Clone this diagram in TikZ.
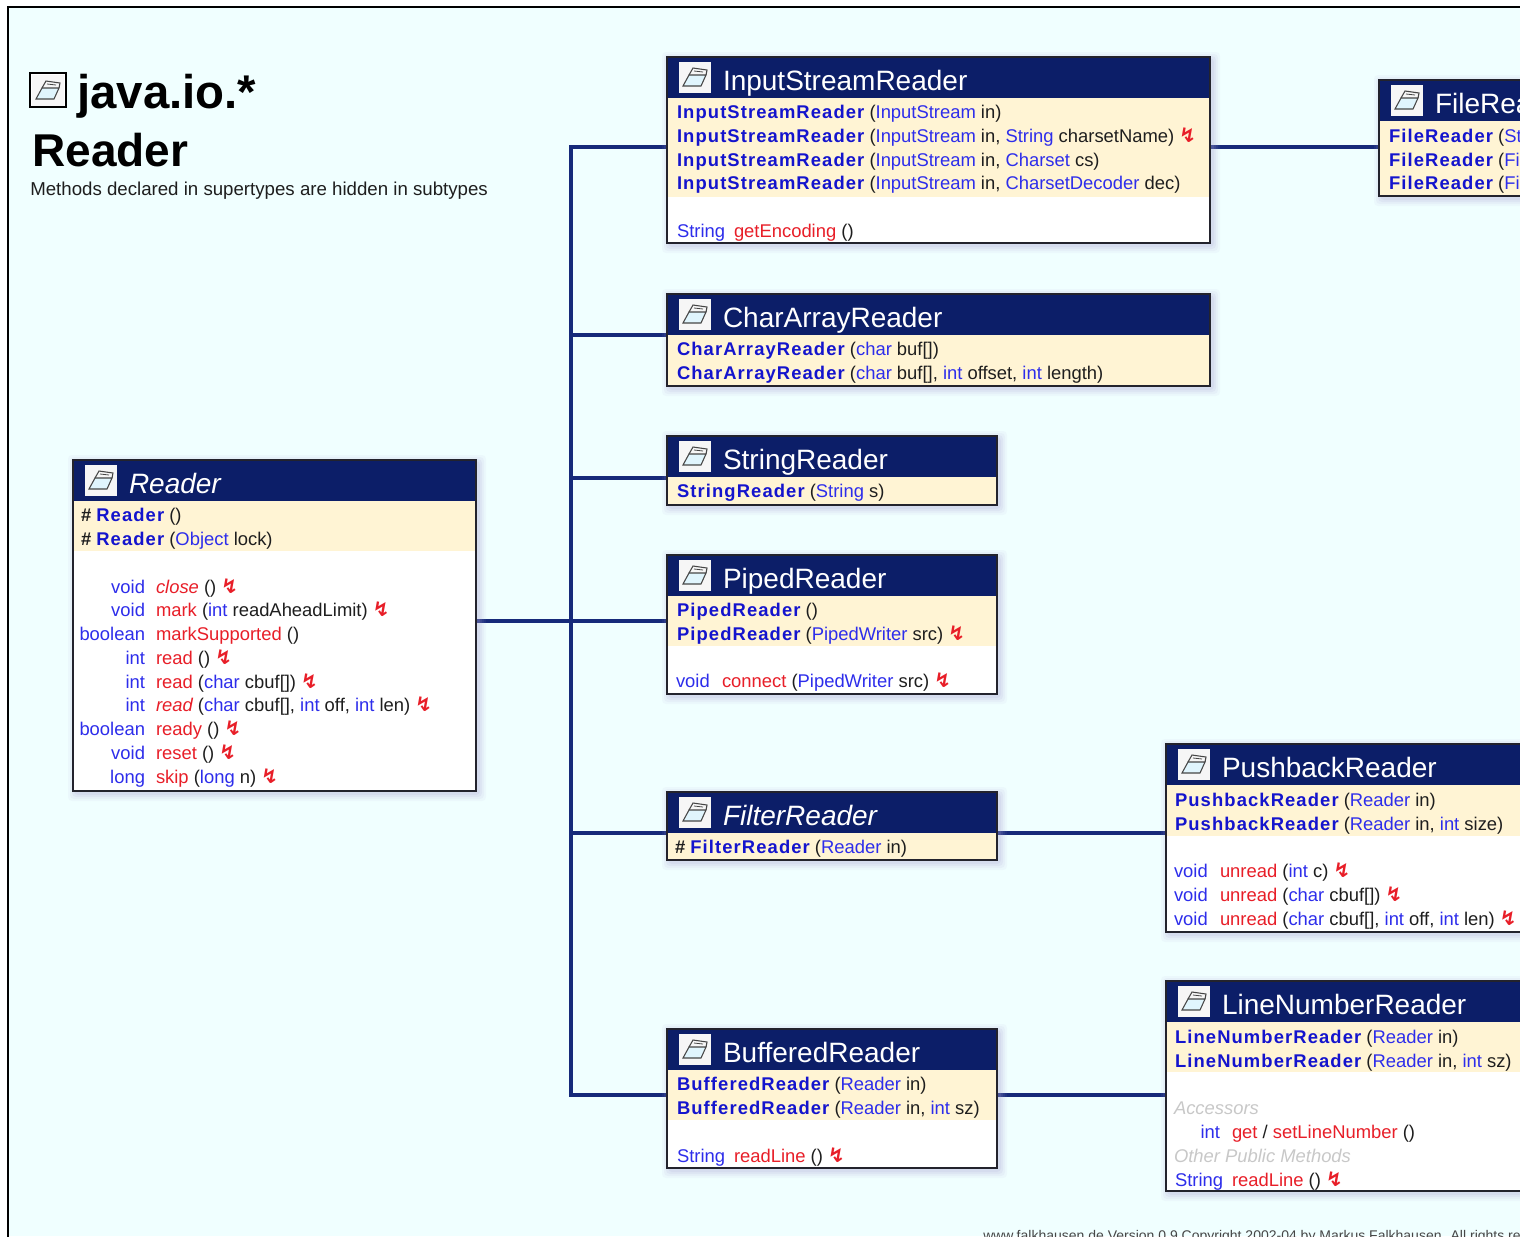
\documentclass[tikz,border=0pt]{standalone}
\usepackage{fontspec}
\setmainfont{Liberation Sans}
\newfontfamily\cnfont{Liberation Sans}[LetterSpace=6]
\newfontfamily\symf{DejaVu Sans}
\usetikzlibrary{fit}
\pgfdeclarelayer{back}
\pgfdeclarelayer{conn}
\pgfsetlayers{back,conn,main}

\definecolor{bgc}{RGB}{240,255,255}
\definecolor{navy}{RGB}{12,30,104}
\definecolor{connc}{RGB}{22,42,122}
\definecolor{yel}{RGB}{255,244,212}
\definecolor{tyc}{RGB}{45,45,235}
\definecolor{cnc}{RGB}{20,20,205}
\definecolor{mnc}{RGB}{232,30,40}
\definecolor{prc}{RGB}{30,30,30}
\definecolor{grc}{RGB}{200,200,200}
\definecolor{shc}{RGB}{170,165,215}
\definecolor{edgec}{RGB}{35,35,45}
\definecolor{footc}{RGB}{70,70,70}

\newcommand\ty[1]{\textcolor{tyc}{#1}}
\newcommand\cn[1]{\textcolor{cnc}{\cnfont\bfseries #1}}
\newcommand\mn[1]{\textcolor{mnc}{#1}}
\newcommand\mni[1]{\textcolor{mnc}{\itshape #1}}
\newcommand\ex{\textcolor{mnc}{\symf\bfseries\fontsize{15}{16}\selectfont ↯}}

\newcommand\drawicon[2]{%
  \begin{scope}[shift={(#1,#2)}]
    \fill[white!93!gray] (0,0) rectangle (32,31);
    \fill[cyan!12!white,draw=gray!55!black,line width=0.8pt] (4,24) -- (10,13) -- (27,13) -- (22,24) -- cycle;
    \draw[gray!55!black,line width=0.8pt] (10,13) -- (14,6) -- (28,8) -- (27,13);
    \draw[gray!55!black,line width=0.6pt] (15,9) -- (24,10);
  \end{scope}}

% name, x0, y0, x1, header bottom, yellow end, bottom
\newcommand\classbox[7]{%
  \foreach \s/\o in {8/0.07,6/0.09,4/0.12,2/0.15}{%
    \fill[shc,opacity=\o,rounded corners=3pt] (#2-\s+3,#3-\s+3) rectangle (#4+\s+2,#7+\s+2);}
  \fill[white] (#2,#3) rectangle (#4,#7);
  \fill[yel] (#2,#5) rectangle (#4,#6);
  \fill[navy] (#2,#3) rectangle (#4,#5);
  \node[draw=edgec,line width=1.3pt,inner sep=0pt,outer sep=0pt,fit={(#2,#3) (#4,#7)}] (#1) {};
  \drawicon{#2+12}{#3+5}}

\newcommand\ml[4]{\node[mem] (#1) at (#2,#3+6) {#4};}
\newcommand\mr[4]{\node[mem,anchor=base east] (#1) at (#2,#3+6) {#4};}

\begin{document}
\begin{tikzpicture}[x=0.75pt,y=-0.75pt,
  mem/.style={inner sep=0pt,outer sep=0pt,anchor=base west,text=prc,font=\fontsize{13.8}{16}\selectfont},
  hdr/.style={inner sep=0pt,outer sep=0pt,anchor=base west,text=white,font=\fontsize{21}{24}\selectfont},
  gry/.style={mem,text=grc,font=\fontsize{13.8}{16}\selectfont\itshape},
  conn/.style={draw=connc,line width=2.3pt,line join=miter}]
\useasboundingbox (0,0) rectangle (1520,1236);
\clip (0,0) rectangle (1520,1236);
\begin{pgfonlayer}{back}
  \fill[white] (0,0) rectangle (1520,1236);
  \fill[bgc] (8,7) rectangle (1520,1236);
  \draw[black,line width=2pt] (8,1240) -- (8,7) -- (1525,7);
\end{pgfonlayer}

% title
\fill[white] (30,73) rectangle (66,107);
\draw[black,line width=1.2pt] (30,73) rectangle (66,107);
\drawicon{32}{75}
\node[inner sep=0pt,anchor=base west,font=\fontsize{35.5}{40}\selectfont\bfseries] (ttl) at (77,108) {java.io.*};
\node[inner sep=0pt,anchor=base west,font=\fontsize{34.5}{40}\selectfont\bfseries] (ttl2) at (32,166) {Reader};
\node[inner sep=0pt,anchor=base west,text=prc,font=\fontsize{14}{16}\selectfont] (sub) at (30,195) {Methods declared in supertypes are hidden in subtypes};

% boxes
\classbox{isr}{667}{57}{1210}{98}{197}{243}
\classbox{car}{667}{294}{1210}{335}{386}{386}
\classbox{str}{667}{436}{997}{477}{505}{505}
\classbox{pip}{667}{555}{997}{596}{646}{694}
\classbox{fil}{667}{792}{997}{833}{860}{860}
\classbox{buf}{667}{1029}{997}{1070}{1120}{1168}
\classbox{rdr}{73}{460}{476}{501}{551}{791}
\classbox{fr}{1379}{80}{1620}{121}{196}{196}
\classbox{pb}{1166}{744}{1620}{785}{836}{932}
\classbox{lnr}{1166}{981}{1620}{1022}{1072}{1191}

% headers
\node[hdr] (isrT) at (723,90) {InputStreamReader};
\node[hdr] (carT) at (723,327) {CharArrayReader};
\node[hdr] (strT) at (723,469) {StringReader};
\node[hdr] (pipT) at (723,588) {PipedReader};
\node[hdr,font=\fontsize{21}{24}\selectfont\itshape] (filT) at (723,825) {FilterReader};
\node[hdr] (bufT) at (723,1062) {BufferedReader};
\node[hdr,font=\fontsize{21}{24}\selectfont\itshape] (rdrT) at (129,493) {Reader};
\node[hdr] (frT) at (1435,113) {FileReader};
\node[hdr] (pbT) at (1222,777) {PushbackReader};
\node[hdr] (lnrT) at (1222,1014) {LineNumberReader};

% InputStreamReader
\ml{isr1}{677}{112}{\cn{InputStreamReader} (\ty{InputStream} in)}
\ml{isr2}{677}{136}{\cn{InputStreamReader} (\ty{InputStream} in, \ty{String} charsetName) \ex}
\ml{isr3}{677}{160}{\cn{InputStreamReader} (\ty{InputStream} in, \ty{Charset} cs)}
\ml{isr4}{677}{183}{\cn{InputStreamReader} (\ty{InputStream} in, \ty{CharsetDecoder} dec)}
\ml{isr5}{677}{231}{\ty{String}}
\ml{isr6}{734}{231}{\mn{getEncoding} ()}

% CharArrayReader
\ml{car1}{677}{349}{\cn{CharArrayReader} (\ty{char} buf[])}
\ml{car2}{677}{373}{\cn{CharArrayReader} (\ty{char} buf[], \ty{int} offset, \ty{int} length)}

% StringReader
\ml{str1}{677}{491}{\cn{StringReader} (\ty{String} s)}

% PipedReader
\ml{pip1}{677}{610}{\cn{PipedReader} ()}
\ml{pip2}{677}{634}{\cn{PipedReader} (\ty{PipedWriter} src) \ex}
\ml{pip3}{676}{681}{\ty{void}}
\ml{pip4}{722}{681}{\mn{connect} (\ty{PipedWriter} src) \ex}

% FilterReader
\ml{fil1}{675}{847}{\textbf{\#} \cn{FilterReader} (\ty{Reader} in)}

% BufferedReader
\ml{buf1}{677}{1084}{\cn{BufferedReader} (\ty{Reader} in)}
\ml{buf2}{677}{1108}{\cn{BufferedReader} (\ty{Reader} in, \ty{int} sz)}
\ml{buf3}{677}{1156}{\ty{String}}
\ml{buf4}{734}{1156}{\mn{readLine} () \ex}

% Reader
\ml{rdr1}{81}{515}{\textbf{\#} \cn{Reader} ()}
\ml{rdr2}{81}{539}{\textbf{\#} \cn{Reader} (\ty{Object} lock)}
\mr{rdr3t}{145}{587}{\ty{void}}
\ml{rdr3}{156}{587}{\mni{close} () \ex}
\mr{rdr4t}{145}{610}{\ty{void}}
\ml{rdr4}{156}{610}{\mn{mark} (\ty{int} readAheadLimit) \ex}
\mr{rdr5t}{145}{634}{\ty{boolean}}
\ml{rdr5}{156}{634}{\mn{markSupported} ()}
\mr{rdr6t}{145}{658}{\ty{int}}
\ml{rdr6}{156}{658}{\mn{read} () \ex}
\mr{rdr7t}{145}{682}{\ty{int}}
\ml{rdr7}{156}{682}{\mn{read} (\ty{char} cbuf[]) \ex}
\mr{rdr8t}{145}{705}{\ty{int}}
\ml{rdr8}{156}{705}{\mni{read} (\ty{char} cbuf[], \ty{int} off, \ty{int} len) \ex}
\mr{rdr9t}{145}{729}{\ty{boolean}}
\ml{rdr9}{156}{729}{\mn{ready} () \ex}
\mr{rdr10t}{145}{753}{\ty{void}}
\ml{rdr10}{156}{753}{\mn{reset} () \ex}
\mr{rdr11t}{145}{777}{\ty{long}}
\ml{rdr11}{156}{777}{\mn{skip} (\ty{long} n) \ex}

% FileReader
\ml{fr1}{1389}{136}{\cn{FileReader} (\ty{String} fileName) \ex}
\ml{fr2}{1389}{160}{\cn{FileReader} (\ty{File} file) \ex}
\ml{fr3}{1389}{183}{\cn{FileReader} (\ty{FileDescriptor} fd)}

% PushbackReader
\ml{pb1}{1175}{800}{\cn{PushbackReader} (\ty{Reader} in)}
\ml{pb2}{1175}{824}{\cn{PushbackReader} (\ty{Reader} in, \ty{int} size)}
\ml{pb3t}{1174}{871}{\ty{void}}
\ml{pb3}{1220}{871}{\mn{unread} (\ty{int} c) \ex}
\ml{pb4t}{1174}{895}{\ty{void}}
\ml{pb4}{1220}{895}{\mn{unread} (\ty{char} cbuf[]) \ex}
\ml{pb5t}{1174}{919}{\ty{void}}
\ml{pb5}{1220}{919}{\mn{unread} (\ty{char} cbuf[], \ty{int} off, \ty{int} len) \ex}

% LineNumberReader
\ml{lnr1}{1175}{1037}{\cn{LineNumberReader} (\ty{Reader} in)}
\ml{lnr2}{1175}{1061}{\cn{LineNumberReader} (\ty{Reader} in, \ty{int} sz)}
\node[gry] (lnr3) at (1174,1114) {Accessors};
\mr{lnr4t}{1220}{1132}{\ty{int}}
\ml{lnr4}{1232}{1132}{\mn{get} / \mn{setLineNumber} ()}
\node[gry] (lnr5) at (1174,1162) {Other Public Methods};
\ml{lnr6t}{1175}{1180}{\ty{String}}
\ml{lnr6}{1232}{1180}{\mn{readLine} () \ex}

% footer
\node[inner sep=0pt,anchor=base west,text=footc,font=\fontsize{10.5}{12}\selectfont] (foot) at (983,1240) {www.falkhausen.de Version 0.9 Copyright 2002-04 by Markus Falkhausen. All rights reserved.};

% connectors
\coordinate (j1) at (571,147);
\coordinate (j2) at (571,335);
\coordinate (j3) at (571,478);
\coordinate (j4) at (571,621);
\coordinate (j5) at (571,833);
\coordinate (j6) at (571,1095);
\begin{pgfonlayer}{conn}
  \draw[conn] (isr.west|-j1) -- (j1) -- (j6) -- (buf.west|-j6);
  \draw[conn] (j2) -- (car.west|-j2);
  \draw[conn] (j3) -- (str.west|-j3);
  \draw[conn] (rdr.east|-j4) -- (pip.west|-j4);
  \draw[conn] (j5) -- (fil.west|-j5);
  \draw[conn] (isr.east|-j1) -- (fr.west|-j1);
  \draw[conn] (fil.east|-j5) -- (pb.west|-j5);
  \draw[conn] (buf.east|-j6) -- (lnr.west|-j6);
\end{pgfonlayer}
\end{tikzpicture}
\end{document}
